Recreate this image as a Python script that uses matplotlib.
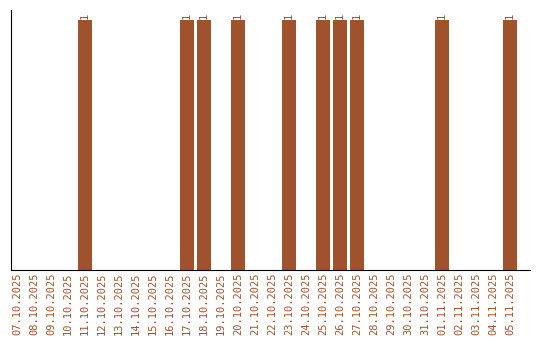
import matplotlib
matplotlib.use("Agg")
import matplotlib.pyplot as plt

dates = ["07.10.2025", "08.10.2025", "09.10.2025", "10.10.2025", "11.10.2025",
         "12.10.2025", "13.10.2025", "14.10.2025", "15.10.2025", "16.10.2025",
         "17.10.2025", "18.10.2025", "19.10.2025", "20.10.2025", "21.10.2025",
         "22.10.2025", "23.10.2025", "24.10.2025", "25.10.2025", "26.10.2025",
         "27.10.2025", "28.10.2025", "29.10.2025", "30.10.2025", "31.10.2025",
         "01.11.2025", "02.11.2025", "03.11.2025", "04.11.2025", "05.11.2025"]
counts = [0, 0, 0, 0, 1, 0, 0, 0, 0, 0,
          1, 1, 0, 1, 0, 0, 1, 0, 1, 1,
          1, 0, 0, 0, 0, 1, 0, 0, 0, 1]

color = "#A0522D"
plt.rcParams["font.family"] = ["DejaVu Sans Mono"]

fig = plt.figure(figsize=(5.4, 3.4), dpi=100)
ax = fig.add_axes([11 / 540, 70 / 340, 519 / 540, 260 / 340])

x = list(range(len(dates)))
bars = ax.bar(x, counts, width=0.82, color=color)
for xi, c in zip(x, counts):
    if c > 0:
        ax.text(xi, c + 0.005, str(c), rotation=90, ha="center", va="bottom",
                fontsize=7.5, color=color)

ax.set_xlim(-0.35, 30.18)
ax.set_ylim(0, 1.04)
ax.set_xticks(x)
ax.set_xticklabels(dates, rotation=90, fontsize=7.5, color=color)
ax.tick_params(axis="x", length=0, pad=2)
ax.set_yticks([])
ax.spines["top"].set_visible(False)
ax.spines["right"].set_visible(False)

fig.savefig("out.png", dpi=100)
